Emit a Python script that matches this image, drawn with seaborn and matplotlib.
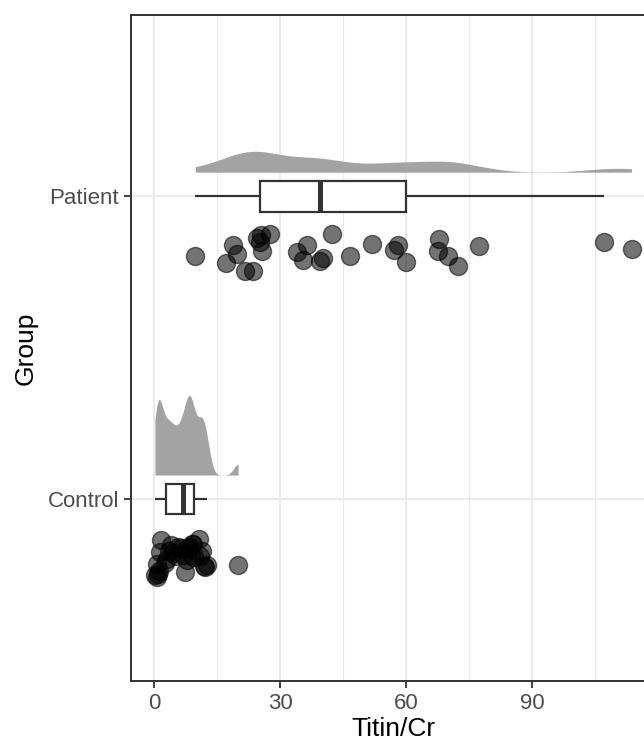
import numpy as np
import pandas as pd
import seaborn as sns
import matplotlib.pyplot as plt
import matplotlib.transforms as mtransforms

# nilai Titin/Cr per kelompok
patient = [9.8, 17.1, 18.9, 19.7, 21.7, 23.5, 24.4, 25.2, 25.4, 25.6, 27.6, 34.1,
           35.5, 36.5, 39.4, 40.3, 42.4, 46.7, 51.8, 57.2, 58.2, 60.0, 67.7, 67.8,
           69.9, 72.3, 77.4, 107.1, 113.7]
control = [0.2, 0.6, 0.8, 1.0, 1.2, 1.4, 1.7, 2.7, 3.1, 3.5, 4.0, 4.6, 5.2, 5.8,
           6.4, 7.0, 7.4, 7.8, 8.1, 8.4, 8.7, 9.0, 9.2, 9.6, 10.6, 11.0, 11.4, 11.8,
           12.2, 12.7, 20.0]
groups = ["Patient", "Control"]
xticks = [0, 30, 60, 90]

df = pd.DataFrame({
    "Group": ["Patient"] * len(patient) + ["Control"] * len(control),
    "Titin/Cr": patient + control,
})

plt.rcParams["font.family"] = ["Liberation Sans", "DejaVu Sans"]

fig = plt.figure(figsize=(6.44, 7.43), dpi=100)
ax = fig.add_axes([131 / 644, 1 - 681 / 743, (655.5 - 131) / 644, (681 - 14.7) / 743])

# setengah violin (awan), digeser ke atas boxplot
# tinggi puncak tiap kelompok diatur lewat width (density_norm="width")
tinggi = {"Patient": 0.069, "Control": 0.263}
for g in groups:
    n0 = len(ax.collections)
    sns.violinplot(data=df[df["Group"] == g], x="Titin/Cr", y="Group", order=groups,
                   split=True, inner=None, cut=0, bw_adjust=0.45, width=tinggi[g],
                   density_norm="width", color="#a3a3a3", linewidth=0,
                   saturation=1, ax=ax)
    for c in ax.collections[n0:]:
        c.set_transform(mtransforms.Affine2D().translate(0, -(tinggi[g] / 2 + 0.08))
                        + ax.transData)

# boxplot
sns.boxplot(data=df, x="Titin/Cr", y="Group", order=groups, width=0.1,
            showfliers=False, color="white", linecolor="#333333", linewidth=1.6,
            medianprops={"linewidth": 3.6}, capprops={"linewidth": 0},
            saturation=1, ax=ax)

# titik (hujan)
np.random.seed(3)
n1 = len(ax.collections)
sns.stripplot(data=df, x="Titin/Cr", y="Group", order=groups, jitter=0.07,
              size=13, color="black", alpha=0.55, edgecolor="black",
              linewidth=1, ax=ax)
for c in ax.collections[n1:]:
    c.set_offsets(c.get_offsets() + np.array([0, 0.19]))

ax.set_xlim(-5.5, 119.4)
ax.set_ylim(1.6, -0.6)
ax.set_xticks(xticks)
ax.set_xticks([15, 45, 75, 105], minor=True)
ax.grid(which="major", color="#ebebeb", linewidth=1.4)
ax.grid(which="minor", axis="x", color="#ebebeb", linewidth=0.8)
ax.set_axisbelow(True)
ax.tick_params(which="major", length=5, width=1.3, color="#333333",
               labelsize=16, labelcolor="#4d4d4d", pad=3.5)
ax.tick_params(which="minor", length=0)
for s in ax.spines.values():
    s.set_color("#333333")
    s.set_linewidth(1.4)
ax.set_xlabel("Titin/Cr", fontsize=19, labelpad=2)
ax.set_ylabel("Group", fontsize=19, labelpad=7)

fig.savefig("out.png", dpi=100)
